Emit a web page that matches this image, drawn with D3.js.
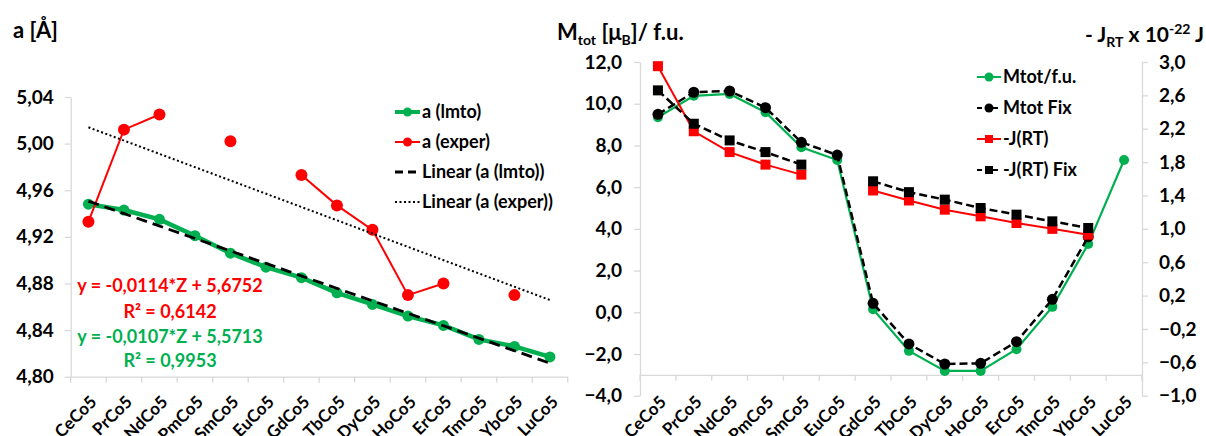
<!DOCTYPE html>
<html>
<head>
<meta charset="utf-8">
<script src="https://cdn.jsdelivr.net/npm/d3@7"></script>
<style>
  body { margin: 0; background: #fff; }
  text { font-family: Lato, "Open Sans", sans-serif; font-weight: bold; fill: #000; }
</style>
</head>
<body>
<svg id="chart" width="1206" height="436"></svg>
<script>
// data
var categories = ["CeCo5", "PrCo5", "NdCo5", "PmCo5", "SmCo5", "EuCo5", "GdCo5",
  "TbCo5", "DyCo5", "HoCo5", "ErCo5", "TmCo5", "YbCo5", "LuCo5"];
var zNumbers = [58, 59, 60, 61, 62, 63, 64, 65, 66, 67, 68, 69, 70, 71];

var aLmto = [4.948, 4.943, 4.935, 4.921, 4.906, 4.894, 4.885, 4.872, 4.862, 4.852, 4.844, 4.832, 4.826, 4.817];
var aExper = [4.933, 5.012, 5.025, null, 5.002, null, 4.973, 4.947, 4.926, 4.870, 4.880, null, 4.870, null];
var lmtoFit = [-0.0107, 5.5713];
var experFit = [-0.0114, 5.6752];
var aTicks = [4.80, 4.84, 4.88, 4.92, 4.96, 5.00, 5.04];

var mtot = [9.35, 10.38, 10.47, 9.59, 7.91, 7.30, 0.15, -1.85, -2.81, -2.81, -1.77, 0.26, 3.27, 7.30];
var mtotFix = [9.49, 10.55, 10.61, 9.81, 8.15, 7.54, 0.43, -1.52, -2.48, -2.45, -1.41, 0.62, 3.62, null];
var jRT = [2.95, 2.17, 1.92, 1.77, 1.65, null, 1.46, 1.34, 1.23, 1.15, 1.07, 1.00, 0.93, null];
var jRTFix = [2.66, 2.26, 2.06, 1.92, 1.77, null, 1.57, 1.44, 1.35, 1.25, 1.17, 1.09, 1.01, null];
var mTicks = [-4, -2, 0, 2, 4, 6, 8, 10, 12];
var jTicks = [-1.0, -0.6, -0.2, 0.2, 0.6, 1.0, 1.4, 1.8, 2.2, 2.6, 3.0];

var leftLegend = ["a (lmto)", "a (exper)", "Linear (a (lmto))", "Linear (a (exper))"];
var rightLegend = ["Mtot/f.u.", "Mtot Fix", "-J(RT)", "-J(RT) Fix"];
var eqLabels = ["y = -0,0114*Z + 5,6752", "R² = 0,6142", "y = -0,0107*Z + 5,5713", "R² = 0,9953"];

var green = "#00b050", red = "#ff0000", axisColor = "#d9d9d9";
var comma = function(n) { return function(v) { return d3.format("." + n + "f")(v).replace(".", ","); }; };

var svg = d3.select("#chart");

function styleAxis(g, size) {
  g.select(".domain").attr("stroke", axisColor).attr("stroke-width", 1.3);
  g.selectAll(".tick line").attr("stroke", axisColor).attr("stroke-width", 1.3);
  g.selectAll(".tick text").style("font-size", size + "px").style("font-family", "Lato, sans-serif").style("font-weight", "bold");
}

function categoryAxis(x, yPos, labelDy) {
  var g = svg.append("g").attr("transform", "translate(0," + yPos + ")")
    .call(d3.axisBottom(x).tickSize(0).tickSizeOuter(0));
  styleAxis(g, 17);
  g.selectAll(".tick text")
    .attr("x", 0).attr("y", 0).attr("dy", "0.35em")
    .style("text-anchor", "end")
    .attr("transform", "translate(5," + labelDy + ") rotate(-45)");
  // tick marks sit between categories
  g.selectAll(".sep")
    .data(categories.concat(["end"]))
    .join("line")
      .attr("class", "sep")
      .attr("x1", d => d === "end" ? x.range()[1] : x(d))
      .attr("x2", d => d === "end" ? x.range()[1] : x(d))
      .attr("y1", 0).attr("y2", 6)
      .attr("stroke", axisColor).attr("stroke-width", 1.3);
  return g;
}

function drawMarkers(g, x, y, values, color, shape, size) {
  var pts = values.map((v, i) => ({c: categories[i], v: v})).filter(d => d.v != null);
  if (shape === "circle") {
    g.selectAll(null).data(pts).join("circle")
      .attr("cx", d => x(d.c) + x.bandwidth() / 2)
      .attr("cy", d => y(d.v))
      .attr("r", size)
      .attr("fill", color);
  } else {
    g.selectAll(null).data(pts).join("rect")
      .attr("x", d => x(d.c) + x.bandwidth() / 2 - size)
      .attr("y", d => y(d.v) - size)
      .attr("width", size * 2).attr("height", size * 2)
      .attr("fill", color);
  }
}

function drawSeries(x, y, values, color, width, dash, shape, size) {
  var g = svg.append("g");
  var line = d3.line()
    .defined(d => d.v != null)
    .x(d => x(d.c) + x.bandwidth() / 2)
    .y(d => y(d.v));
  g.append("path")
    .datum(values.map((v, i) => ({c: categories[i], v: v})))
    .attr("d", line)
    .attr("fill", "none")
    .attr("stroke", color)
    .attr("stroke-width", width)
    .attr("stroke-dasharray", dash);
  if (shape) drawMarkers(g, x, y, values, color, shape, size);
}

// ---------- left chart: lattice parameter ----------
var x1 = d3.scaleBand().domain(categories).range([70.7, 567.7]);
var y1 = d3.scaleLinear().domain([4.80, 5.04]).range([376.7, 97]);

var yAxis1 = svg.append("g").attr("transform", "translate(70.7,0)")
  .call(d3.axisLeft(y1).tickValues(aTicks).tickFormat(comma(2)).tickSize(6).tickSizeOuter(0).tickPadding(11));
styleAxis(yAxis1, 19);
categoryAxis(x1, y1(4.80), 22);

drawSeries(x1, y1, aLmto, green, 4.5, null, "circle", 5.5);
drawSeries(x1, y1, aExper, red, 2, null, "circle", 6);

// trendlines from the fitted equations
function fitLine(fit, color, width, dash) {
  var ends = [0, categories.length - 1];
  svg.append("path")
    .datum(ends)
    .attr("d", d3.line()
      .x(i => x1(categories[i]) + x1.bandwidth() / 2)
      .y(i => y1(fit[0] * zNumbers[i] + fit[1])))
    .attr("fill", "none")
    .attr("stroke", color)
    .attr("stroke-width", width)
    .attr("stroke-dasharray", dash);
}
fitLine(lmtoFit, "#000", 2.8, "11,6");
fitLine(experFit, "#000", 2, "2,2.5");

svg.append("text").attr("x", 13).attr("y", 38).style("font-size", "22px").text("a [Å]");

svg.selectAll(".eq")
  .data(eqLabels)
  .join("text")
    .attr("class", "eq")
    .attr("x", (d, i) => i % 2 ? 170 : 170)
    .attr("y", (d, i) => [292, 318, 343, 367][i])
    .attr("text-anchor", "middle")
    .style("font-size", "18px")
    .style("fill", (d, i) => i < 2 ? red : green)
    .text(d => d);

// left legend
var leg1 = svg.append("g");
leftLegend.forEach(function(label, i) {
  var yy = 112 + i * 30;
  var row = leg1.append("g");
  var styles = [
    {c: green, w: 4, dash: null, m: "circle"},
    {c: red, w: 2, dash: null, m: "circle"},
    {c: "#000", w: 2.8, dash: "8,5", m: null},
    {c: "#000", w: 2, dash: "2,2.5", m: null}
  ][i];
  row.append("line").attr("x1", 395).attr("x2", 420).attr("y1", yy).attr("y2", yy)
    .attr("stroke", styles.c).attr("stroke-width", styles.w).attr("stroke-dasharray", styles.dash);
  if (styles.m) row.append("circle").attr("cx", 407.5).attr("cy", yy).attr("r", 4.5).attr("fill", styles.c);
  row.append("text").attr("x", 422).attr("y", yy).attr("dy", "0.35em").style("font-size", "18px").text(label);
});

// ---------- right chart: moments and exchange ----------
var x2 = d3.scaleBand().domain(categories).range([640, 1142]);
var y2 = d3.scaleLinear().domain([-4, 12]).range([395.7, 62]);
var y3 = d3.scaleLinear().domain([-1, 3]).range([395.7, 62]);

var yAxis2 = svg.append("g").attr("transform", "translate(640,0)")
  .call(d3.axisLeft(y2).tickValues(mTicks).tickFormat(comma(1)).tickSize(6).tickSizeOuter(0).tickPadding(12));
styleAxis(yAxis2, 19);
var yAxis3 = svg.append("g").attr("transform", "translate(1142,0)")
  .call(d3.axisRight(y3).tickValues(jTicks).tickFormat(comma(1)).tickSize(6).tickSizeOuter(0).tickPadding(11));
styleAxis(yAxis3, 19);
categoryAxis(x2, y2(-3), 24);

drawSeries(x2, y2, mtot, green, 2.2, null, "circle", 5);
drawSeries(x2, y2, mtotFix, "#000", 2.5, "8,4", "circle", 5.5);
drawSeries(x2, y3, jRT, red, 2, null, "square", 5);
drawSeries(x2, y3, jRTFix, "#000", 2.5, "8,4", "square", 5);

var t2 = svg.append("text").attr("x", 557).attr("y", 40).style("font-size", "22px");
t2.append("tspan").text("M");
t2.append("tspan").attr("dy", 5).style("font-size", "14px").text("tot");
t2.append("tspan").attr("dy", -5).text(" [μ");
t2.append("tspan").attr("dy", 5).style("font-size", "14px").text("B");
t2.append("tspan").attr("dy", -5).text("]/ f.u.");

var t3 = svg.append("text").attr("x", 1204).attr("y", 42).attr("text-anchor", "end").style("font-size", "21px");
t3.append("tspan").text("- J");
t3.append("tspan").attr("dy", 5).style("font-size", "14px").text("RT");
t3.append("tspan").attr("dy", -5).text(" x 10");
t3.append("tspan").attr("dy", -8).style("font-size", "14px").text("-22");
t3.append("tspan").attr("dy", 8).text(" J");

// right legend
var leg2 = svg.append("g");
rightLegend.forEach(function(label, i) {
  var yy = 77 + i * 31;
  var row = leg2.append("g");
  var styles = [
    {c: green, w: 2, dash: null, m: "circle"},
    {c: "#000", w: 2, dash: "5,3", m: "circle"},
    {c: red, w: 2, dash: null, m: "square"},
    {c: "#000", w: 2, dash: "5,3", m: "square"}
  ][i];
  row.append("line").attr("x1", 977).attr("x2", 1001).attr("y1", yy).attr("y2", yy)
    .attr("stroke", styles.c).attr("stroke-width", styles.w).attr("stroke-dasharray", styles.dash);
  if (styles.m === "circle") row.append("circle").attr("cx", 989).attr("cy", yy).attr("r", 4.5).attr("fill", styles.c);
  else row.append("rect").attr("x", 985).attr("y", yy - 4).attr("width", 8).attr("height", 8).attr("fill", styles.c);
  row.append("text").attr("x", 1003).attr("y", yy).attr("dy", "0.35em").style("font-size", "18px").text(label);
});
</script>
</body>
</html>
